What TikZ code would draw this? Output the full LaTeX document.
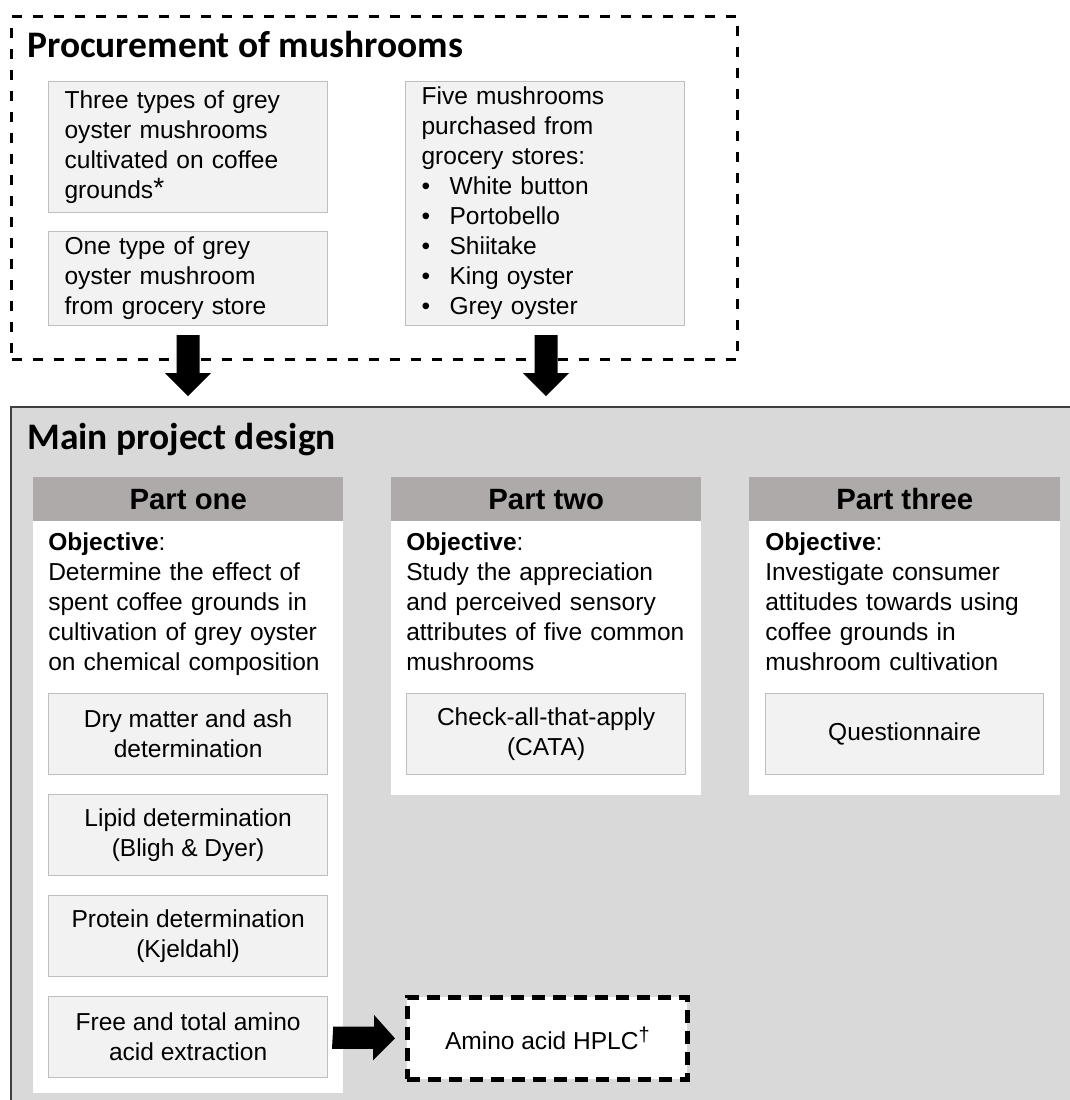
\documentclass[tikz,border=0pt]{standalone}
\usepackage{fontspec}
\setmainfont{Liberation Sans}
\newfontfamily\titlefont{Carlito}
\newdimen\pxu \pxu=0.75pt
\definecolor{boxfill}{HTML}{F2F2F2}
\definecolor{boxline}{HTML}{BFBFBF}
\definecolor{hdr}{HTML}{AEAAAA}
\definecolor{mainfill}{HTML}{D9D9D9}
\definecolor{mainline}{HTML}{404040}
\begin{document}
\begin{tikzpicture}[x=0.75pt,y=-0.75pt,
  txt/.style={font=\fontsize{18.4pt}{22.5pt}\selectfont},
  gbox/.style={draw=boxline, fill=boxfill, line width=0.9pt, inner sep=0pt, align=center, txt},
  pbox/.style={gbox, align=left, text width=247\pxu, inner xsep=16\pxu, inner ysep=0pt, anchor=north west},
  sbox/.style={gbox, minimum width=279\pxu, minimum height=81\pxu, anchor=north west},
  header/.style={fill=hdr, minimum width=310\pxu, minimum height=44\pxu, inner sep=0pt, anchor=north west,
    font=\fontsize{22pt}{26pt}\selectfont\bfseries},
  partbody/.style={fill=white, minimum width=310\pxu, inner sep=0pt, anchor=north west},
  obj/.style={txt, text width=290\pxu, inner sep=0pt, align=left, anchor=base west},
  bigtitle/.style={font=\titlefont\bfseries\fontsize{28.1pt}{33pt}\selectfont, inner sep=0pt, anchor=base west},
  blk/.style={fill=black, draw=none}
]
\clip (0,0) rectangle (1070,1100);
\fill[white] (0,0) rectangle (1070,1100);

% ---------- Procurement ----------
\node[draw=black, line width=2.25pt, dash pattern=on 7.5pt off 8.25pt, minimum width=726\pxu, minimum height=343\pxu,
  inner sep=0pt, anchor=north west] (procbox) at (10,15) {};
\node[bigtitle] (proctitle) at (27,57) {Procurement of mushrooms};

\node[pbox, minimum height=131\pxu] (boxA) at (48,81)
  {Three types of grey\\oyster mushrooms\\cultivated on coffee\\grounds\raisebox{1pt}{\fontsize{21pt}{22pt}\selectfont *}};
\node[pbox, minimum height=94\pxu] (boxB) at (48,231)
  {One type of grey\\oyster mushroom\\from grocery store};
\node[pbox, minimum height=244\pxu] (boxC) at (405,81)
  {Five mushrooms\\purchased from\\grocery stores:\\
   \makebox[28\pxu][l]{\textbullet}White button\\
   \makebox[28\pxu][l]{\textbullet}Portobello\\
   \makebox[28\pxu][l]{\textbullet}Shiitake\\
   \makebox[28\pxu][l]{\textbullet}King oyster\\
   \makebox[28\pxu][l]{\textbullet}Grey oyster};

% down arrows
\coordinate (a1s) at (188,335);
\coordinate (a1e) at (188,396);
\coordinate (a2s) at (546,335);
\coordinate (a2e) at (546,396);
\fill[blk] (a1s) ++(-11.5,0) -- ++(0,38) -- ++(-11.5,0) -- (a1e) -- ++(23,-23) -- ++(-11.5,0) -- ++(0,-38) -- cycle;
\fill[blk] (a2s) ++(-11.5,0) -- ++(0,38) -- ++(-11.5,0) -- (a2e) -- ++(23,-23) -- ++(-11.5,0) -- ++(0,-38) -- cycle;

% ---------- Main project design ----------
\node[draw=mainline, fill=mainfill, line width=1.2pt, minimum width=1080\pxu, minimum height=720\pxu,
  inner sep=0pt, anchor=north west] (mainbox) at (10,406) {};
\node[bigtitle] (maintitle) at (27,449) {Main project design};

% Part one
\node[partbody, minimum height=572\pxu] (p1b) at (33,521) {};
\node[header] (p1h) at (33,477) {Part one};
\node[obj] (p1o) at (48,550) {\textbf{Objective}:\\Determine the effect of\\spent coffee grounds in\\cultivation of grey oyster\\on chemical composition};
\node[sbox] (s1) at (48,693) {Dry matter and ash\\determination};
\node[sbox] (s2) at (48,794) {Lipid determination\\(Bligh \& Dyer)};
\node[sbox] (s3) at (48,895) {Protein determination\\(Kjeldahl)};
\node[sbox] (s4) at (48,996) {Free and total amino\\acid extraction};

% Part two
\node[partbody, minimum height=274\pxu] (p2b) at (391,521) {};
\node[header] (p2h) at (391,477) {Part two};
\node[obj] (p2o) at (406,550) {\textbf{Objective}:\\Study the appreciation\\and perceived sensory\\attributes of five common\\mushrooms};
\node[sbox] (cata) at (406,693) {Check-all-that-apply\\(CATA)};

% Part three
\node[partbody, minimum width=311\pxu, minimum height=274\pxu] (p3b) at (749,521) {};
\node[header, minimum width=311\pxu] (p3h) at (749,477) {Part three};
\node[obj] (p3o) at (765,550) {\textbf{Objective}:\\Investigate consumer\\attitudes towards using\\coffee grounds in\\mushroom cultivation};
\node[sbox, minimum width=278\pxu] (quest) at (765,693) {Questionnaire};

% HPLC
\node[draw=black, fill=white, line width=3.6pt, dash pattern=on 9.75pt off 6pt, minimum width=280\pxu, minimum height=82\pxu,
  inner sep=0pt, anchor=north west, txt] (hplc) at (405,995) {Amino acid HPLC\raisebox{6pt}{\fontsize{15pt}{16pt}\selectfont\textdagger}};

% right arrow
\coordinate (a3s) at ([xshift=5\pxu]s4.east);
\coordinate (a3e) at ([xshift=-10\pxu]hplc.west);
\fill[blk] (a3s) ++(0,-10.5) -- ++(41,0) -- ++(0,-11.5) -- (a3e) -- ++(-22,22) -- ++(0,-11.5) -- ++(-41,0) -- cycle;
\end{tikzpicture}
\end{document}
